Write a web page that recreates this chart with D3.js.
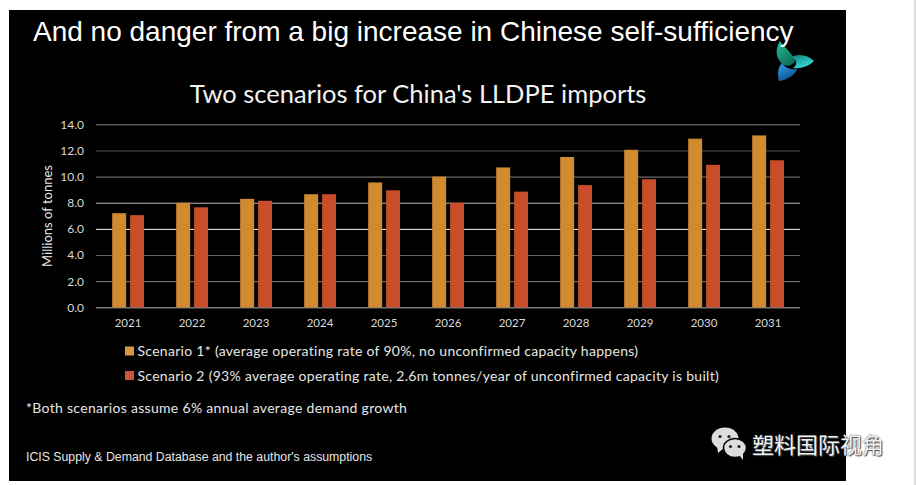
<!DOCTYPE html>
<html>
<body style="margin: 0; background: #fff">
  <script src="https://d3js.org/d3.v7.min.js"></script>

  <script>
    const years = ["2021", "2022", "2023", "2024", "2025", "2026", "2027", "2028", "2029", "2030", "2031"];
    const scenario1 = [7.2, 8.0, 8.3, 8.65, 9.55, 10.0, 10.7, 11.5, 12.05, 12.9, 13.15];
    const scenario2 = [7.05, 7.65, 8.15, 8.65, 8.95, 8.0, 8.85, 9.35, 9.8, 10.9, 11.25];
    const yTicks = [0, 2, 4, 6, 8, 10, 12, 14];
    const seriesNames = [
      "Scenario 1* (average operating rate of 90%, no unconfirmed capacity happens)",
      "Scenario 2 (93% average operating rate, 2.6m tonnes/year of unconfirmed capacity is built)"
    ];

    const ORANGE = "#d18a2f";
    const RED = "#c94c2b";
    const CHART_FONT = "Lato, 'Open Sans', sans-serif";
    const SLIDE_FONT = "'Liberation Sans', Arial, sans-serif";

    // the gridlines come out at different brightness in the screenshot
    const gridTones = {0: "#b8b8b8", 2: "#858585", 4: "#666", 6: "#f2f2f2", 8: "#b8b8b8", 10: "#858585", 12: "#555", 14: "#858585"};

    const svg = d3.select("body").append("svg")
      .attr("width", 916)
      .attr("height", 485)
      .style("display", "block");

    svg.append("rect")
      .attr("x", 9).attr("y", 10)
      .attr("width", 837).attr("height", 471)
      .attr("fill", "#000");

    svg.append("rect")
      .attr("x", 914).attr("y", 0)
      .attr("width", 2).attr("height", 485)
      .attr("fill", "#ddd");

    const addText = (x, y, text, size, font, fill) => svg.append("text")
      .attr("x", x).attr("y", y)
      .attr("font-family", font)
      .attr("font-size", size)
      .attr("fill", fill)
      .text(text);

    const slideTitle = addText(33, 41, "And no danger from a big increase in Chinese self-sufficiency", 28, SLIDE_FONT, "#fff");
    addText(418, 103, "Two scenarios for China's LLDPE imports", 25.5, CHART_FONT, "#f2f2f2")
      .attr("text-anchor", "middle");

    // scales
    const x = d3.scaleBand().domain(years).range([96, 800]);
    const y = d3.scaleLinear().domain([0, 14]).range([307.3, 124.3]);
    const series = d3.scaleBand().domain([0, 1]).range([16.2, 48]).paddingInner(0.22);

    // y axis and gridlines
    const yAxis = svg.append("g")
      .attr("transform", "translate(96,0)")
      .call(d3.axisLeft(y).tickValues(yTicks).tickFormat(d3.format(".1f")).tickSize(-704).tickPadding(12));
    yAxis.select(".domain").remove();
    yAxis.selectAll(".tick line")
      .attr("stroke", (d) => gridTones[d])
      .attr("stroke-width", 1);
    yAxis.selectAll(".tick text")
      .attr("fill", "#d9d9d9")
      .attr("font-family", CHART_FONT)
      .attr("font-size", 12);

    // x axis
    const xAxis = svg.append("g")
      .attr("transform", "translate(0,307.3)")
      .call(d3.axisBottom(x).tickSize(0).tickPadding(12));
    xAxis.select(".domain").remove();
    xAxis.selectAll(".tick text")
      .attr("fill", "#d9d9d9")
      .attr("font-family", CHART_FONT)
      .attr("font-size", 11.5);

    svg.append("text")
      .attr("transform", "translate(52,216) rotate(-90)")
      .attr("text-anchor", "middle")
      .attr("font-family", CHART_FONT)
      .attr("font-size", 13)
      .attr("fill", "#e6e6e6")
      .text("Millions of tonnes");

    // bars
    [scenario1, scenario2].forEach((values, s) => {
      svg.append("g")
        .selectAll("rect")
        .data(values)
        .enter()
        .append("rect")
        .attr("x", (d, i) => x(years[i]) + series(s))
        .attr("y", (d) => y(d))
        .attr("width", series.bandwidth())
        .attr("height", (d) => y(0) - y(d))
        .attr("fill", s === 0 ? ORANGE : RED);
    });

    // legend
    const legend = svg.append("g")
      .selectAll("g")
      .data(seriesNames)
      .enter()
      .append("g")
      .attr("transform", (d, i) => `translate(125,${351 + i * 24.5})`);
    legend.append("rect")
      .attr("y", -4.5)
      .attr("width", 9).attr("height", 9)
      .attr("fill", (d, i) => i === 0 ? "#d49a45" : "#c9553a");
    legend.append("text")
      .attr("x", 12.5).attr("y", 5)
      .attr("font-family", CHART_FONT)
      .attr("font-size", 14)
      .attr("letter-spacing", 0.29)
      .attr("fill", "#e6e6e6")
      .text((d) => d);

    addText(26, 413, "*Both scenarios assume 6% annual average demand growth", 14, CHART_FONT, "#e6e6e6")
      .attr("letter-spacing", 0.31);
    addText(26, 461, "ICIS Supply & Demand Database and the author's assumptions", 12.3, SLIDE_FONT, "#e6e6e6");

    // logo, three petals
    const defs = svg.append("defs");
    const petalStops = [["petalA", "#22c08f", "#0e6f5e"], ["petalB", "#0f7f80", "#38dcd8"], ["petalC", "#2f9ff0", "#0f4f8a"]];
    petalStops.forEach(([id, from, to]) => {
      const g = defs.append("linearGradient").attr("id", id).attr("x1", 0).attr("y1", 0).attr("x2", 0.6).attr("y2", 1);
      g.append("stop").attr("offset", "0%").attr("stop-color", from);
      g.append("stop").attr("offset", "100%").attr("stop-color", to);
    });
    const logo = svg.append("g").attr("transform", "translate(780,41)");
    logo.append("path").attr("d", "M0,0 C-5,8 -5,18 4,24 C8,26 13,24 15,20 C14,14 6,8 0,0Z").attr("fill", "url(#petalA)");
    logo.append("path").attr("d", "M11,16 C19,12 28,14 34,20 C29,25 21,28 13,27 C18,24 17,18 11,16Z").attr("fill", "url(#petalB)");
    logo.append("path").attr("d", "M17,28 C16,33 8,39 -1,40 C-3,33 -2,26 2,22 C5,27 11,29 17,28Z").attr("fill", "url(#petalC)");
    slideTitle.raise();

    // wechat watermark
    const wechat = svg.append("g").attr("transform", "translate(711,429)").attr("fill", "#ddd");
    wechat.append("ellipse").attr("cx", 14).attr("cy", 9.5).attr("rx", 13.5).attr("ry", 11);
    wechat.append("path").attr("d", "M6,17 L7,24 L13,19Z");
    wechat.append("ellipse").attr("cx", 24).attr("cy", 19).attr("rx", 11.5).attr("ry", 9.5).attr("stroke", "#000").attr("stroke-width", 1.5);
    wechat.append("path").attr("d", "M28,26 L32,31 L32,24Z");
    [[9, 7.5], [18, 7.5], [19.5, 17.5], [28, 17.5]].forEach(([cx, cy]) => {
      wechat.append("circle").attr("cx", cx).attr("cy", cy).attr("r", 1.6).attr("fill", "#222");
    });

    addText(752, 453, "塑料国际视角", 22, "'Noto Sans CJK SC', sans-serif", "#f2f2f2")
      .style("text-shadow", "0 0 1.5px #333, 1px 1px 1px #555");
  </script>
</body>
</html>
